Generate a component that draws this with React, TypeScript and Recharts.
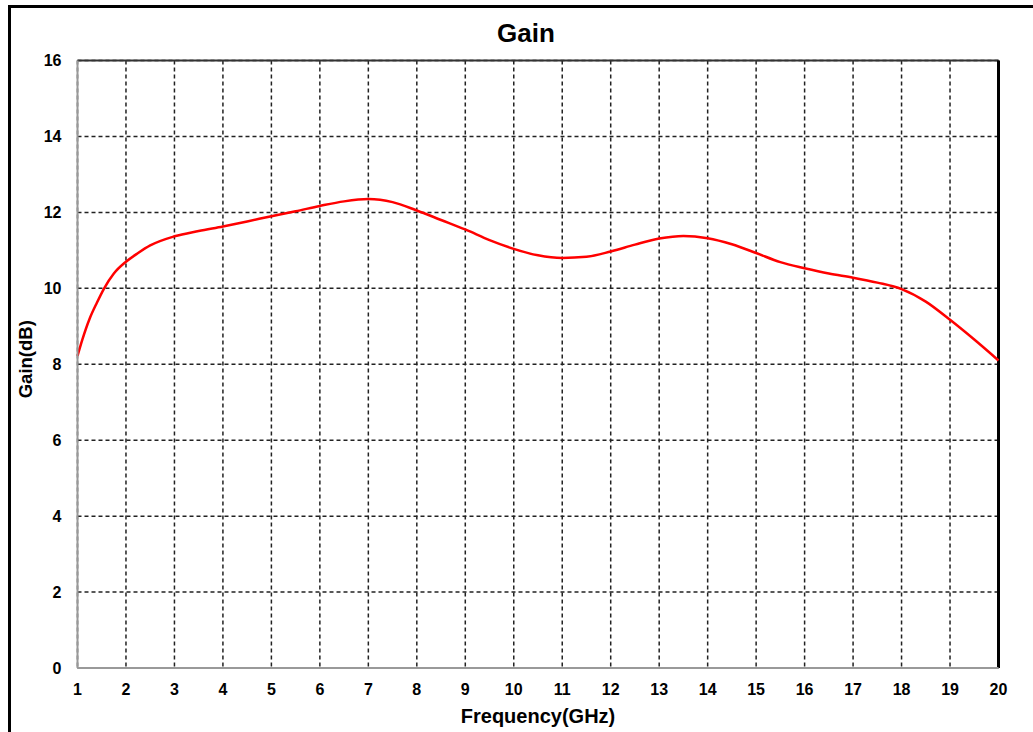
import React from 'react';
import { LineChart, Line, XAxis, YAxis, CartesianGrid, ReferenceLine } from 'recharts';

const freqs = [1, 1.1, 1.25, 1.4, 1.55, 1.75, 2, 2.25, 2.5, 3, 3.5, 4, 4.5, 5, 5.5, 6, 6.5, 7, 7.5, 8, 8.5, 9, 9.5, 10, 10.5, 11, 11.5, 12, 12.5, 13, 13.5, 14, 14.5, 15, 15.5, 16, 16.5, 17, 17.5, 18, 18.5, 19, 19.5, 20];
const gain = [8.22, 8.65, 9.2, 9.62, 10.0, 10.39, 10.7, 10.93, 11.13, 11.37, 11.51, 11.63, 11.76, 11.9, 12.03, 12.17, 12.29, 12.35, 12.27, 12.05, 11.8, 11.55, 11.27, 11.04, 10.87, 10.8, 10.83, 10.97, 11.15, 11.31, 11.38, 11.32, 11.16, 10.93, 10.69, 10.53, 10.39, 10.28, 10.15, 9.98, 9.65, 9.17, 8.65, 8.1];
const xTicks = [1, 2, 3, 4, 5, 6, 7, 8, 9, 10, 11, 12, 13, 14, 15, 16, 17, 18, 19, 20];
const yTicks = [0, 2, 4, 6, 8, 10, 12, 14, 16];

const data = freqs.map((f, i) => ({ freq: f, gain: gain[i] }));

const font = '"Liberation Sans", Arial, sans-serif';
const tickStyle = { fontFamily: font, fontSize: 16, fontWeight: 700, fill: '#000' };

export default function App() {
  return (
    <div style={{ position: 'absolute', left: 0, top: 0, width: 1033, height: 732, overflow: 'hidden', background: '#fff' }}>
      <div
        style={{
          position: 'absolute',
          left: 8,
          top: 5,
          width: 1025,
          height: 727,
          borderTop: '3px solid #000',
          borderLeft: '3px solid #000',
          boxSizing: 'border-box',
        }}
      />
      <div
        style={{
          position: 'absolute',
          left: 0,
          top: 18,
          width: 1052,
          textAlign: 'center',
          fontFamily: font,
          fontWeight: 700,
          fontSize: 26,
          lineHeight: '30px',
        }}
      >
        Gain
      </div>
      <div style={{ position: 'absolute', left: 0, top: 0 }}>
        <LineChart width={1033} height={732} data={data} margin={{ top: 60.5, right: 34.5, bottom: 24, left: 17.5 }}>
          <CartesianGrid stroke="#222" strokeDasharray="4 3" strokeWidth={1.5} />
          <XAxis
            dataKey="freq"
            type="number"
            domain={[1, 20]}
            ticks={xTicks}
            interval={0}
            height={40}
            tickLine={false}
            tickMargin={10}
            axisLine={{ stroke: '#999', strokeWidth: 2 }}
            tick={tickStyle}
            label={{
              value: 'Frequency(GHz)',
              content: ({ viewBox }: any) => (
                <text
                  x={viewBox.x + viewBox.width / 2}
                  y={viewBox.y + 48}
                  textAnchor="middle"
                  dominantBaseline="central"
                  style={{ fontFamily: font, fontSize: 20, fontWeight: 700 }}
                  fill="#000"
                >
                  Frequency(GHz)
                </text>
              ),
            }}
          />
          <YAxis
            type="number"
            domain={[0, 16]}
            ticks={yTicks}
            interval={0}
            width={60}
            tickLine={false}
            tickMargin={10}
            axisLine={{ stroke: '#999', strokeWidth: 2 }}
            tick={tickStyle}
            label={{
              value: 'Gain(dB)',
              content: ({ viewBox }: any) => {
                const cx = viewBox.x + 8;
                const cy = viewBox.y + viewBox.height / 2 - 5;
                return (
                  <text
                    x={cx}
                    y={cy}
                    transform={`rotate(-90 ${cx} ${cy})`}
                    textAnchor="middle"
                    dominantBaseline="central"
                    style={{ fontFamily: font, fontSize: 18.5, fontWeight: 700 }}
                    fill="#000"
                  >
                    Gain(dB)
                  </text>
                );
              },
            }}
          />
          <ReferenceLine y={16} stroke="#333" strokeWidth={2} />
          <ReferenceLine x={20} stroke="#000" strokeWidth={3} />
          <Line
            type="monotone"
            dataKey="gain"
            stroke="#ff0000"
            strokeWidth={2.5}
            dot={false}
            isAnimationActive={false}
          />
        </LineChart>
      </div>
    </div>
  );
}
